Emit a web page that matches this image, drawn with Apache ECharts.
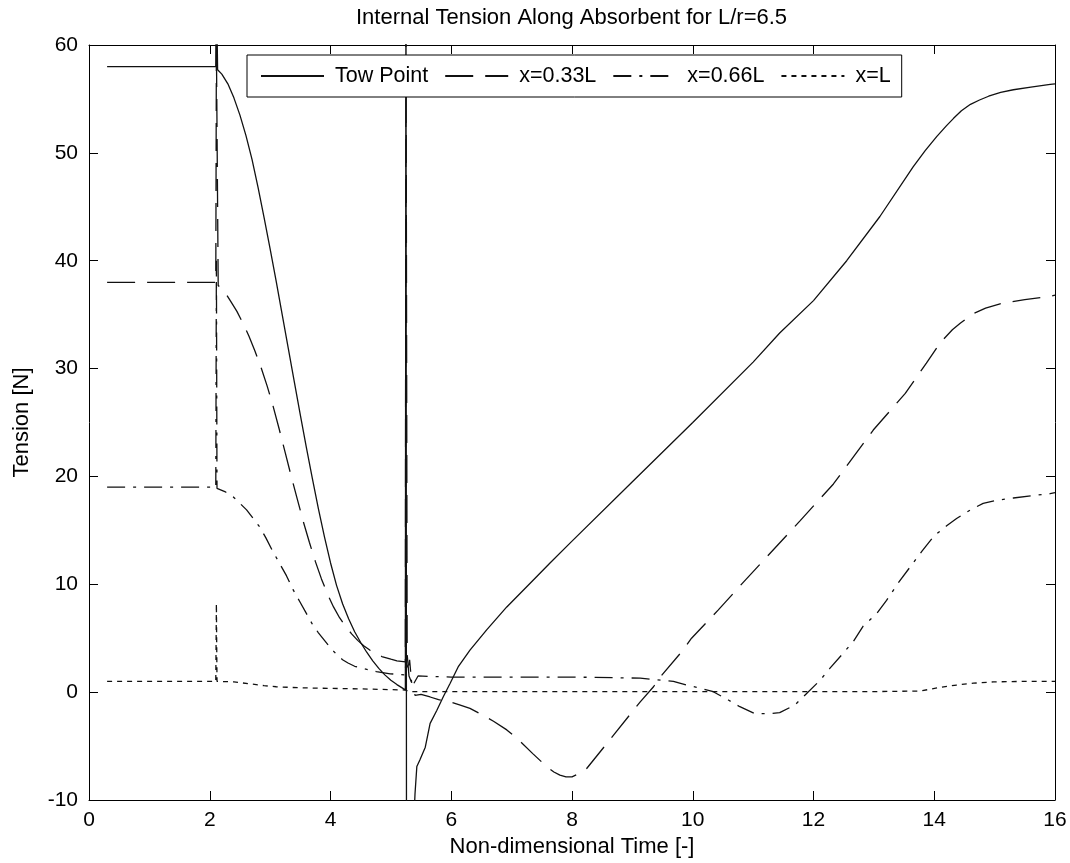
<!DOCTYPE html>
<html>
<head>
<meta charset="utf-8">
<script src="https://cdn.jsdelivr.net/npm/echarts@6/dist/echarts.min.js"></script>
<style>
html,body{margin:0;padding:0;background:#fff;}
#chart{width:1070px;height:863px;}
</style>
</head>
<body>
<div id="chart"></div>
<script>
// ---- data ----
var xTicks = [0, 2, 4, 6, 8, 10, 12, 14, 16];
var yTicks = [-10, 0, 10, 20, 30, 40, 50, 60];

var towT = [0.3, 2.1, 2.11, 2.13, 2.2, 2.3, 2.4, 2.5, 2.6, 2.7, 2.8, 2.9, 3.0, 3.1, 3.2, 3.3, 3.4, 3.5, 3.6, 3.7, 3.8, 3.9, 4.0, 4.1, 4.2, 4.3, 4.4, 4.5, 4.6, 4.7, 4.8, 4.9, 5.0, 5.1, 5.2, 5.24,
  5.25, 5.26, 5.38, 5.40, 5.43, 5.48, 5.57, 5.65, 5.76, 5.87, 5.98, 6.12, 6.31, 6.59, 6.92, 7.36, 7.64, 8.0, 9.0, 10.0, 11.0, 11.44, 12.0, 12.55, 13.1, 13.65, 13.85, 14.04, 14.2, 14.32, 14.45, 14.6, 14.75, 14.9, 15.1, 15.31, 15.6, 15.92, 16.0];
var towV = [58, 58, 66, 57.7, 57.3, 56.4, 55.1, 53.5, 51.6, 49.4, 46.8, 44.0, 41.1, 38.1, 35.0, 31.9, 28.8, 25.7, 22.7, 19.8, 17.0, 14.4, 12.0, 9.9, 8.2, 6.8, 5.6, 4.6, 3.7, 2.9, 2.2, 1.6, 1.1, 0.7, 0.35, 0.2,
  70, -25, -12, -9.4, -6.9, -6.3, -5.1, -2.9, -1.7, -0.4, 0.8, 2.4, 3.9, 5.8, 7.9, 10.4, 12.0, 14.0, 19.5, 25.0, 30.6, 33.3, 36.3, 40.0, 44.1, 48.7, 50.2, 51.5, 52.5, 53.2, 53.9, 54.5, 54.9, 55.25, 55.6, 55.85, 56.1, 56.35, 56.4];

var x33T = [0.3, 2.1, 2.11, 2.14, 2.25, 2.35, 2.45, 2.55, 2.65, 2.75, 2.85, 2.95, 3.05, 3.15, 3.25, 3.35, 3.45, 3.55, 3.65, 3.75, 3.85, 3.95, 4.05, 4.15, 4.25, 4.35, 4.45, 4.55, 4.65, 4.75, 4.85, 5.0, 5.1, 5.24,
  5.25, 5.27, 5.30, 5.35, 5.40, 5.50, 5.65, 5.79, 5.98, 6.15, 6.31, 6.48, 6.7, 6.92, 7.11, 7.35, 7.58, 7.7, 7.8, 7.9, 8.0, 8.1, 8.24, 8.6, 9.13, 9.35, 9.46, 9.84, 9.98, 10.42, 10.84, 11.78, 12.33, 12.99, 13.52, 13.87, 14.1, 14.3, 14.43, 14.55, 14.65, 14.85, 15.09, 15.5, 15.92, 16.0];
var x33V = [38, 38, 60, 37.7, 37.1, 36.2, 35.3, 34.2, 33.0, 31.6, 30.1, 28.4, 26.5, 24.4, 22.2, 20.0, 17.9, 15.8, 13.9, 12.1, 10.5, 9.1, 7.9, 6.9, 6.1, 5.4, 4.8, 4.3, 3.9, 3.6, 3.3, 3.05, 2.9, 2.8,
  65, 3.5, 1.5, 0.8, -0.3, -0.2, -0.45, -0.7, -0.9, -1.2, -1.5, -2.0, -2.7, -3.5, -4.4, -5.7, -6.9, -7.4, -7.7, -7.85, -7.85, -7.6, -7.1, -4.6, -0.9, 0.5, 1.4, 3.9, 5.0, 7.6, 10.2, 15.9, 19.3, 24.3, 27.7, 30.5, 32.4, 33.6, 34.2, 34.7, 35.1, 35.6, 36.0, 36.4, 36.7, 36.8];

var x66T = [0.3, 2.1, 2.11, 2.12, 2.25, 2.39, 2.5, 2.61, 2.72, 2.83, 2.93, 3.03, 3.15, 3.27, 3.38, 3.49, 3.6, 3.7, 3.8, 3.9, 4.0, 4.1, 4.2, 4.29, 4.4, 4.54, 4.76, 4.99, 5.24,
  5.25, 5.28, 5.31, 5.35, 5.45, 6.0, 7.0, 8.0, 9.13, 9.68, 9.90, 10.12, 10.34, 10.59, 10.78, 11.03, 11.25, 11.44, 11.69, 12.11, 12.27, 12.49, 12.66, 12.82, 13.05, 13.21, 13.40, 13.6, 13.8, 14.0, 14.2, 14.37, 14.6, 14.81, 15.05, 15.31, 15.6, 15.92, 16.0];
var x66V = [19, 19, 40, 18.9, 18.6, 18.1, 17.5, 16.9, 16.1, 15.3, 14.3, 13.2, 12.0, 10.8, 9.5, 8.4, 7.3, 6.3, 5.5, 4.8, 4.1, 3.5, 3.0, 2.7, 2.4, 2.2, 1.9, 1.7, 1.6,
  3.6, 2.0, 3.0, 0.5, 1.5, 1.4, 1.4, 1.4, 1.3, 1.0, 0.65, 0.38, 0.04, -0.73, -1.35, -2.0, -2.0, -1.9, -1.2, 1.1, 2.2, 3.6, 4.7, 6.1, 7.3, 8.5, 10.1, 11.6, 13.1, 14.5, 15.4, 16.1, 16.9, 17.5, 17.8, 18.0, 18.2, 18.4, 18.5];

var xLT = [0.3, 2.1, 2.11, 2.12, 2.4, 2.65, 2.9, 3.1, 3.5, 4.0, 4.5, 5.24, 5.30, 5.4, 6.0, 8.0, 10.0, 12.0, 13.0, 13.76, 14.1, 14.37, 14.65, 14.98, 15.5, 16.0];
var xLV = [1.0, 1.0, 8.2, 1.0, 0.95, 0.78, 0.6, 0.5, 0.4, 0.35, 0.3, 0.2, 0.05, 0.05, 0.05, 0.05, 0.05, 0.05, 0.05, 0.1, 0.44, 0.66, 0.83, 0.95, 1.0, 1.0];

var seriesNames = ['Tow Point', 'x=0.33L', 'x=0.66L', 'x=L'];

function zip(t, v) { return t.map(function (x, i) { return [x, v[i]]; }); }

var FONT = '"Liberation Sans", Arial, sans-serif';
var INK = '#000';

var chart = echarts.init(document.getElementById('chart'), null, { renderer: 'canvas' });

function lineSeries(name, t, v, dash) {
  return {
    name: name,
    type: 'line',
    data: zip(t, v),
    xAxisIndex: 0,
    yAxisIndex: 0,
    symbol: 'none',
    showSymbol: false,
    smooth: false,
    clip: true,
    animation: false,
    lineStyle: { color: '#111', width: 1.3, type: dash },
    itemStyle: { color: '#111' },
    emphasis: { disabled: true }
  };
}

var axisCommon = {
  axisLine: { show: true, onZero: false, lineStyle: { color: INK, width: 1 } },
  axisTick: { show: true, inside: true, length: 9, lineStyle: { color: INK, width: 1 } },
  splitLine: { show: false }
};

chart.setOption({
  animation: false,
  backgroundColor: '#fff',
  textStyle: { fontFamily: FONT },
  title: {
    text: 'Internal Tension Along Absorbent for L/r=6.5',
    left: 356,
    top: 7,
    padding: 0,
    textStyle: { fontFamily: FONT, fontSize: 22, fontWeight: 'normal', color: INK }
  },
  legend: {
    data: seriesNames,
    left: 247,
    top: 55,
    orient: 'horizontal',
    padding: [10, 11, 10, 13],
    itemWidth: 63,
    itemHeight: 14,
    itemGap: 16,
    borderColor: INK,
    borderWidth: 1,
    borderRadius: 0,
    backgroundColor: '#fff',
    selectedMode: false,
    z: 10,
    itemStyle: { opacity: 0 },
    textStyle: { fontFamily: FONT, fontSize: 21.5, color: INK, padding: [0, 0, 0, 6] }
  },
  grid: { left: 89, right: 15, top: 45, bottom: 63, containLabel: false },
  xAxis: [
    Object.assign({
      type: 'value', position: 'bottom', min: xTicks[0], max: xTicks[xTicks.length - 1], interval: 2,
      name: 'Non-dimensional Time [-]', nameLocation: 'middle', nameGap: 34,
      nameTextStyle: { fontFamily: FONT, fontSize: 22, color: INK },
      axisLabel: { show: true, margin: 10, fontFamily: FONT, fontSize: 21, color: INK }
    }, axisCommon),
    Object.assign({
      type: 'value', position: 'top', min: xTicks[0], max: xTicks[xTicks.length - 1], interval: 2,
      axisLabel: { show: false }
    }, axisCommon)
  ],
  yAxis: [
    Object.assign({
      type: 'value', position: 'left', min: yTicks[0], max: yTicks[yTicks.length - 1], interval: 10,
      name: 'Tension [N]', nameLocation: 'middle', nameGap: 56,
      nameTextStyle: { fontFamily: FONT, fontSize: 22, color: INK },
      axisLabel: { show: true, margin: 11, fontFamily: FONT, fontSize: 21, color: INK }
    }, axisCommon),
    Object.assign({
      type: 'value', position: 'right', min: yTicks[0], max: yTicks[yTicks.length - 1], interval: 10,
      axisLabel: { show: false }
    }, axisCommon)
  ],
  series: [
    lineSeries(seriesNames[0], towT, towV, 'solid'),
    lineSeries(seriesNames[1], x33T, x33V, [28, 12]),
    lineSeries(seriesNames[2], x66T, x66V, [18, 8, 3, 8]),
    lineSeries(seriesNames[3], xLT, xLV, [5, 5])
  ]
});
</script>
</body>
</html>
